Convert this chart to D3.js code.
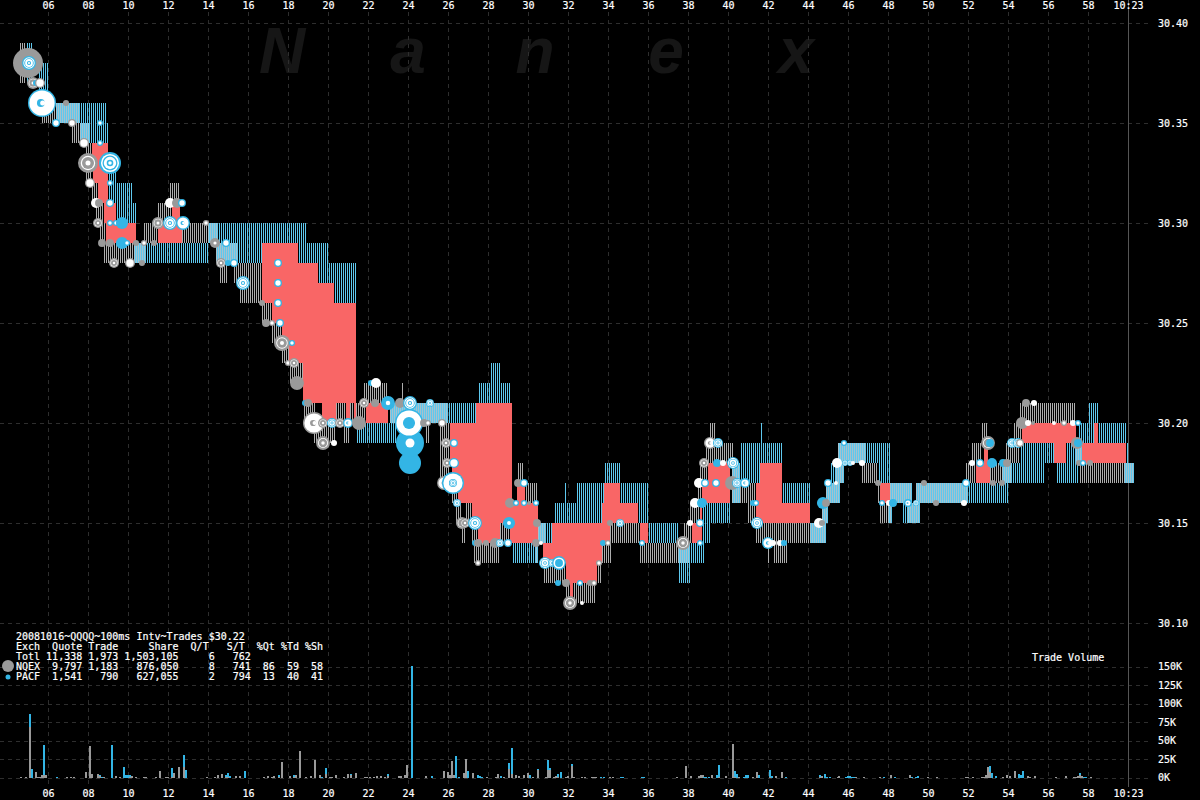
<!DOCTYPE html>
<html><head><meta charset="utf-8">
<script src="https://cdn.jsdelivr.net/npm/d3@7/dist/d3.min.js"></script>
<style>html,body{margin:0;background:#000;overflow:hidden}svg{display:block}
text{font-family:"DejaVu Sans Mono",monospace;font-size:10px;fill:#fff;stroke:#fff;stroke-width:.2px;white-space:pre}</style></head>
<body><svg id="c" width="1200" height="800"></svg>
<script>
const GRAY="#9a9a9a",BLUE="#33b5e5",RED="#f96666";
const secondTicks=d3.range(6,60,2);
const priceTicks=[30.40,30.35,30.30,30.25,30.20,30.15,30.10];
const volumeTicks=[0,25,50,75,100,125,150];
const tableLines=[
"20081016~QQQQ~100ms Intv~Trades $30.22",
"Exch  Quote Trade     Share  Q/T   S/T  %Qt %Td %Sh",
"Totl 11,338 1,973 1,503,105     6   762",
"NQEX  9,797 1,183   876,050     8   741  86  59  58",
"PACF  1,541   790   627,055     2   794  13  40  41"];
// quote spans: [t0, t1, low, high]
const nqexQuotes=[[4.6,4.9,30.37,30.39],[5.7,6.35,30.35,30.36],[7.2,7.6,30.34,30.35],[7.85,8.2,30.32,30.34],[8.2,8.5,30.31,30.32],[8.4,8.8,30.30,30.31],[8.6,8.9,30.29,30.30],[8.8,10.4,30.28,30.29],[10.8,11.6,30.29,30.30],[11.5,12.2,30.30,30.31],[12.1,12.55,30.31,30.32],[12.7,13.95,30.29,30.30],[14.6,14.95,30.27,30.28],[15.3,16.7,30.27,30.28],[15.6,16.7,30.26,30.27],[16.7,17.2,30.25,30.26],[17.2,17.7,30.24,30.25],[17.7,18.05,30.23,30.24],[18.1,18.75,30.22,30.23],[18.75,19.4,30.20,30.21],[20.4,20.9,30.20,30.21],[21.1,21.3,30.20,30.21],[21.4,21.95,30.20,30.21],[21.8,22.95,30.21,30.22],[23.65,23.75,30.21,30.22],[19.3,20.35,30.19,30.20],[20.8,21.05,30.19,30.20],[24.85,25.05,30.19,30.20],[25.6,26.1,30.17,30.20],[26.2,26.5,30.16,30.17],[26.4,26.7,30.15,30.16],[26.9,27.2,30.15,30.16],[26.7,26.85,30.14,30.15],[27.2,27.5,30.14,30.15],[27.3,28.55,30.13,30.14],[28.6,29.1,30.14,30.15],[29.5,29.75,30.17,30.18],[29.8,30.45,30.16,30.17],[30.8,31.9,30.12,30.13],[31.9,32.2,30.11,30.12],[32.2,33.35,30.11,30.12],[33.45,33.65,30.12,30.13],[33.7,34.15,30.13,30.14],[34.1,35.6,30.14,30.15],[35.6,37.45,30.13,30.14],[37.8,38.2,30.14,30.15],[38.1,38.6,30.15,30.16],[38.6,39,30.17,30.18],[38.45,38.7,30.16,30.17],[38.9,40.25,30.18,30.19],[39.1,39.35,30.19,30.20],[40.6,41.4,30.16,30.17],[41,41.4,30.15,30.16],[41.4,44.1,30.14,30.15],[42.3,42.95,30.13,30.14],[41.95,42.05,30.13,30.14],[46.7,47.5,30.17,30.18],[47.6,48,30.15,30.16],[47.5,47.6,30.16,30.17],[51.9,52.4,30.17,30.18],[52.2,52.7,30.18,30.19],[52.7,52.95,30.19,30.20],[53.1,53.75,30.17,30.18],[53.9,54.6,30.18,30.19],[54.3,54.7,30.19,30.20],[54.6,57.35,30.20,30.21],[57.6,59.8,30.17,30.18]];
const pacfQuotes=[[4.9,5.15,30.37,30.39],[5.5,6,30.36,30.38],[7.6,8.9,30.35,30.36],[8.1,9,30.34,30.35],[9,9.4,30.31,30.33],[9.4,10.2,30.31,30.32],[9.4,10.4,30.30,30.31],[10.9,13.95,30.28,30.29],[14.5,18.9,30.29,30.30],[15.45,16.7,30.28,30.29],[18.5,20,30.28,30.29],[19.5,21.4,30.27,30.28],[20.3,21.4,30.26,30.27],[21.35,23.35,30.19,30.20],[25.95,27.4,30.20,30.21],[27.45,29.1,30.21,30.22],[28.05,28.6,30.22,30.23],[29.15,30.35,30.13,30.14],[30.9,31.2,30.14,30.15],[31.25,33.7,30.15,30.16],[31.8,31.9,30.16,30.17],[32.35,33.75,30.16,30.17],[33.75,34.6,30.17,30.18],[34.6,36,30.16,30.17],[35.5,36,30.15,30.16],[36,37.5,30.14,30.15],[38.1,38.8,30.13,30.14],[37.45,38.1,30.12,30.13],[38.7,39.1,30.14,30.15],[38.7,40.1,30.15,30.16],[40.55,42.7,30.18,30.19],[41.6,41.7,30.19,30.20],[40.55,41.6,30.17,30.18],[42.7,44.1,30.16,30.17],[46.9,48.1,30.18,30.19],[47.5,48.1,30.17,30.18],[45.05,45.35,30.17,30.18],[48.65,48.95,30.15,30.16],[52,54,30.16,30.17],[54.2,55.8,30.17,30.18],[54.6,56.3,30.18,30.19],[56.35,57.5,30.17,30.18],[56.9,57.45,30.18,30.19],[57.95,58.5,30.20,30.21],[57.45,58.3,30.19,30.20],[58.5,59.9,30.19,30.20],[59.9,60,30.18,30.19]];
const sharedQuotes=[[6.35,7.6,30.35,30.36],[7.6,8.1,30.34,30.35],[10.3,10.9,30.28,30.29],[13.95,14.5,30.29,30.30],[14.35,15.45,30.28,30.29],[23.1,25.95,30.20,30.21],[30.35,30.5,30.13,30.14],[30.5,30.9,30.14,30.15],[37.45,38.1,30.13,30.14],[40.15,40.6,30.16,30.18],[44.1,44.9,30.14,30.15],[44.7,45,30.15,30.16],[44.85,45.6,30.16,30.17],[45.35,45.75,30.17,30.18],[45.5,46.9,30.18,30.19],[48.1,49.2,30.16,30.17],[49.4,52,30.16,30.17],[48,48.2,30.15,30.16],[48.95,49.6,30.15,30.16],[53.7,54.2,30.17,30.18],[57.35,57.7,30.18,30.19],[59.8,60.3,30.17,30.18]];
const crossedQuotes=[[8.2,9,30.33,30.34],[8.25,9,30.32,30.33],[8.5,9,30.31,30.32],[8.8,9.4,30.30,30.31],[8.9,10.4,30.29,30.30],[11.5,12.7,30.29,30.30],[12.2,12.6,30.30,30.31],[16.7,18.5,30.28,30.29],[16.7,19.5,30.27,30.28],[16.7,20.3,30.26,30.27],[17.2,21.4,30.25,30.26],[17.7,21.4,30.24,30.25],[18.05,21.4,30.23,30.24],[18.75,21.4,30.21,30.23],[19.7,20.4,30.20,30.21],[20.9,21.1,30.20,30.21],[21.3,21.4,30.20,30.21],[21.9,23,30.20,30.21],[27.4,29.2,30.20,30.21],[26.1,29.2,30.18,30.20],[26.2,29.2,30.17,30.18],[26.5,29.2,30.16,30.17],[27.2,29.2,30.15,30.16],[27.5,28.6,30.14,30.15],[29.1,30.5,30.14,30.16],[29.45,29.85,30.16,30.17],[31.2,34.1,30.14,30.15],[30.75,33.7,30.13,30.14],[31.9,33.45,30.12,30.13],[32.1,32.25,30.11,30.12],[33.8,34.6,30.16,30.17],[33.7,35.5,30.15,30.16],[35.6,36,30.14,30.15],[38.2,38.7,30.14,30.15],[38.6,38.7,30.15,30.16],[39,40.1,30.17,30.18],[38.7,40.1,30.16,30.17],[41.6,42.7,30.17,30.18],[41.4,42.7,30.16,30.17],[41.4,44.1,30.15,30.16],[47.6,48.1,30.16,30.17],[52.4,53.1,30.17,30.18],[52.8,53,30.18,30.19],[54.7,57.4,30.19,30.20],[56.3,56.9,30.18,30.19],[58.3,58.5,30.19,30.20],[57.7,59.9,30.18,30.19]];
// volume: [t, NQEX K shares, PACF K shares]
const volumes=[[4.6,1.3,0],[4.85,1.3,0],[5.05,68.3,17.4],[5.15,0,12],[5.35,8,0],[5.45,1.3,0],[5.55,1.3,0],[5.65,4,0],[5.75,4,40],[5.85,4,0],[6.4,0,1.3],[6.9,1.3,0],[7.1,1.3,0],[7.25,1.3,0],[7.85,8,0],[8.05,42.9,0],[8.15,5.4,0],[8.45,5.4,0],[8.55,2.7,1.3],[8.65,0,1.3],[8.75,1.3,0],[9.15,0,44.2],[9.35,2.7,0],[9.55,1.3,0],[9.75,0,14.7],[9.85,0,4],[9.95,0,4],[10.05,1.3,2.7],[10.15,2.7,0],[10.35,1.3,0],[10.75,1.3,0],[10.85,1.3,0],[11.35,1.3,0],[11.55,9.4,0],[11.85,1.3,0],[11.95,1.3,0],[12.15,1.3,12],[12.25,6.7,0],[12.5,14.7,0],[12.75,14.7,16],[12.85,0,10.7],[13.9,1.3,0],[14.3,1.3,0],[14.45,4,0],[14.65,5.4,0],[14.85,1.3,2.7],[14.95,1.3,5.4],[15.05,0,2.7],[15.35,2.7,0],[15.55,2.7,0],[15.8,0,9.4],[16.75,1.3,0],[16.95,2.7,0],[17.15,1.3,0],[17.25,2.7,0],[17.5,1.3,2.7],[17.65,21.4,0],[18.05,2.7,0],[18.25,1.3,2.7],[18.35,4,0],[18.55,36,0],[18.85,1.3,0],[19.1,2.7,0],[19.3,24,0],[19.55,4,0],[19.65,0,1.3],[19.85,5.4,8],[20.05,1.3,0],[20.15,1.3,0],[20.35,4,0],[20.75,1.3,0],[20.95,5.4,0],[21.1,4,1.3],[21.35,6.7,0],[21.8,1.3,0],[21.9,1.3,0],[22.05,1.3,0],[22.25,1.3,0],[22.4,2.7,0],[22.6,2.7,0],[22.8,1.3,0],[22.95,2.7,2.7],[23.5,2.7,0],
[23.6,2.7,0],[23.8,4,0],[23.9,17.4,0],[24.15,0,151],[24.85,2.7,0],[25.15,0,2.7],[25.75,9.4,0],[25.95,8,0],[26.05,4,0],[26.15,22.8,0],[26.25,4,0],[26.35,0,29.5],[26.5,0,1.3],[26.75,6.7,0],[26.85,25.5,0],[26.95,0,9.4],[27.2,6.7,0],[27.45,0,4],[27.55,0,2.7],[27.65,0,1.3],[27.9,1.3,0],[28.35,1.3,0],[28.45,5.4,0],[28.6,0,2.7],[28.75,1.3,0],[29,12,8],[29.15,5.4,34.8],[29.35,4,0],[29.5,2.7,0],[29.75,4,0],[29.95,6.7,0],[30.05,0,4],[30.2,1.3,0],[30.45,10.7,1.3],[30.85,1.3,0],[30.95,10.7,13.4],[31.05,10.7,2.7],[31.25,1.3,0],[31.35,2.7,0],[31.45,1.3,4],[31.6,0,8],[31.85,1.3,0],[31.95,2.7,0],[32.15,16,2.7],[32.25,1.3,0],[32.65,1.3,0],[32.8,1.3,0],[33.15,1.3,0],[33.25,1.3,0],[33.35,1.3,0],[33.6,0,1.3],[33.75,0,1.3],[34.05,1.3,0],[34.2,1.3,0],[34.6,0,1.3],[34.7,0,1.3],[35.65,0,1.3],[35.75,0,1.3],[37.4,1.3,0],[37.85,16,0],[38.1,2.7,0],[38.5,2.7,0],[38.6,4,0],[38.7,4,0],[38.75,0,1.3],[38.85,0,1.3],[39,0,1.3],[39.15,4,0],[39.4,0,4],[39.5,1.3,16],[39.85,2.7,0],[40.2,45.6,0],[40.3,1.3,8],[40.4,0,5.4],[40.5,1.3,0],[40.75,0,1.3],[40.85,0,4],[40.95,0,4],[41.2,1.3,0],[41.4,8,0],[41.5,0,4],[42.05,1.3,9.4],[42.15,0,2.7],[42.35,2.7,0],[42.65,8,0],[42.85,0,1.3],
[44.55,1.3,2.7],[44.65,2.7,0],[44.8,0,5.4],[44.9,0,1.3],[45.05,0,1.3],[45.45,1.3,0],[45.5,2.7,0],[45.85,0,1.3],[45.95,0,2.7],[46.05,0,2.7],[46.15,0,1.3],[46.25,0,1.3],[46.35,1.3,0],[46.75,1.3,0],[47.55,1.3,0],[47.75,0,1.3],[48.1,4,0],[48.3,0,1.3],[49.05,4,0],[49.15,0,1.3],[49.35,0,1.3],[49.45,0,2.7],[49.95,1.3,0],[50.4,1.3,0],[51.85,1.3,0],[51.95,1.3,0],[52.2,1.3,0],[52.65,1.3,0],[52.75,1.3,0],[52.85,4,0],[52.95,14.7,0],[53.05,8,8],[53.15,0,6.7],[53.35,0,2.7],[53.7,1.3,0],[53.9,4,0],[54.05,2.7,0],[54.3,9.4,0],[54.5,0,5.4],[54.6,0,4],[54.7,0,9.4],[54.95,2.7,0],[55.05,1.3,0],[55.3,2.7,0],[56.35,1.3,0],[56.85,2.7,0],[57.25,1.3,0],[57.35,1.3,0],[57.45,2.7,0],[57.55,4,2.7],[57.65,2.7,0],[57.75,0,1.3],[57.85,0,1.3],[58.1,1.3,0]];
// trades: [t, price, exchange, K shares, style]
const trades=[[5,30.38,'N',172,'solid'],[5.05,30.38,'P',37,'ring'],[5.25,30.37,'N',28,'ring'],[5.4,30.37,'P',7,'solid'],[5.6,30.37,'N',19,'dot'],[5.7,30.36,'P',150,'disc'],[6.9,30.36,'N',7,'solid'],[6.4,30.35,'P',12,'dot'],[7.2,30.35,'N',12,'dot'],[8.6,30.35,'P',7,'dot'],[7.8,30.34,'N',19,'dot'],[8.6,30.34,'P',7,'dot'],[8,30.33,'N',77,'ring'],[9.1,30.33,'P',93,'ring'],[8.1,30.32,'N',19,'dot'],[9.1,30.32,'P',7,'dot'],[8.4,30.31,'N',19,'white'],[8.55,30.31,'N',12,'solid'],[9.1,30.31,'P',12,'dot'],[8.5,30.30,'N',19,'ring'],[9.1,30.30,'P',7,'dot'],[9.4,30.30,'P',7,'dot'],[9.7,30.30,'P',28,'solid'],[8.7,30.29,'N',12,'solid'],[9.1,30.29,'N',12,'solid'],[9.7,30.29,'P',28,'solid'],[9.95,30.29,'P',7,'dot'],[10.4,30.29,'N',7,'solid'],[10.8,30.29,'N',7,'dot'],[11.3,30.29,'N',7,'solid'],[9.3,30.28,'N',19,'ring'],[10.1,30.28,'N',19,'dot'],[10.7,30.28,'N',7,'solid'],[12.1,30.31,'N',19,'white'],[12.45,30.31,'N',19,'solid'],[12.7,30.31,'P',12,'dot'],[11.5,30.30,'N',28,'ring'],[12.1,30.30,'P',37,'ring'],[12.75,30.30,'P',37,'disc'],[13.9,30.30,'N',7,'dot'],[14.35,30.29,'N',19,'core'],[14.9,30.29,'P',12,'dot'],[14.65,30.28,'N',19,'ring'],[15,30.28,'P',7,'solid'],[15.3,30.28,'P',12,'dot'],[15.75,30.27,'P',37,'ring'],[17.5,30.28,'P',12,'dot'],[17.5,30.27,'P',12,'dot'],[17.5,30.26,'P',12,'dot'],[16.7,30.26,'N',7,'solid'],[16.9,30.25,'N',12,'solid'],[17.2,30.25,'N',7,'dot'],[17.6,30.25,'P',12,'dot'],[17.7,30.24,'N',49,'ring'],[18.2,30.24,'P',7,'dot'],[18,30.23,'N',7,'dot'],[18.3,30.23,'N',19,'ring'],[18.45,30.22,'N',37,'solid'],[18.85,30.21,'P',7,'solid'],[19,30.21,'N',12,'solid'],[19.3,30.20,'N',93,'disc'],[19.75,30.20,'N',19,'ring'],[20.2,30.20,'P',19,'ring'],[20.6,30.20,'N',19,'ring'],[21,30.20,'P',19,'disc'],[21.55,30.20,'N',37,'solid'],[19.75,30.19,'N',37,'ring'],[20.3,30.19,'N',7,'white'],[21.8,30.21,'N',19,'ring'],[22.35,30.21,'N',12,'solid'],[23,30.21,'P',37,'core'],[22.15,30.22,'P',7,'solid'],[22.4,30.22,'N',19,'white'],[23.6,30.21,'N',19,'solid'],[24.1,30.21,'P',37,'ring'],[24.1,30.18,'P',93,'solid'],[24.1,30.19,'P',150,'core'],[24.05,30.20,'P',150,'disc'],[24.05,30.20,'P',28,'solid'],[24.8,30.20,'N',12,'solid'],[25,30.20,'N',7,'dot'],[25.7,30.20,'N',12,'dot'],[25.1,30.21,'P',12,'ring'],[25.9,30.19,'N',19,'ring'],[26.3,30.19,'P',12,'dot'],[25.95,30.18,'N',19,'ring'],[26.3,30.18,'P',19,'dot'],[25.8,30.17,'N',37,'disc'],[26.25,30.17,'P',93,'disc'],[26.25,30.17,'P',12,'ring'],[26.45,30.16,'P',12,'ring'],[26.7,30.15,'N',28,'ring'],[26.85,30.15,'N',19,'ring'],[27.35,30.15,'P',37,'ring'],[27.35,30.14,'P',7,'solid'],[27.5,30.14,'N',12,'solid'],[27.9,30.14,'N',7,'solid'],[28.35,30.14,'N',19,'solid'],[28.6,30.14,'P',12,'ring'],[29,30.14,'P',12,'dot'],[27.5,30.13,'N',7,'dot'],[29.5,30.17,'N',12,'solid'],[29.8,30.17,'P',12,'dot'],[29.1,30.16,'N',19,'solid'],[29.4,30.16,'P',7,'dot'],[29.8,30.16,'P',7,'dot'],[30.05,30.16,'N',3,'solid'],[30.4,30.16,'P',7,'dot'],[29.05,30.15,'P',28,'core'],[30.45,30.15,'N',12,'solid'],[30.4,30.14,'N',12,'solid'],[30.65,30.14,'N',3,'white'],[30.85,30.13,'P',28,'ring'],[31.2,30.13,'P',12,'ring'],[31.55,30.13,'P',37,'disc'],[31.55,30.13,'P',12,'solid'],[31.5,30.12,'P',7,'solid'],[31.9,30.12,'N',12,'solid'],[32.6,30.12,'P',7,'dot'],[33.1,30.12,'N',7,'solid'],[33.3,30.12,'N',7,'dot'],[32.1,30.11,'N',37,'ring'],[32.7,30.11,'N',3,'white'],[33.55,30.13,'N',7,'dot'],[33.75,30.14,'P',7,'solid'],[34,30.14,'N',7,'dot'],[34.1,30.15,'N',7,'solid'],[34.6,30.15,'P',12,'ring'],[35.7,30.14,'P',7,'dot'],[37.75,30.14,'N',37,'ring'],[38.6,30.14,'P',7,'dot'],[38.1,30.15,'N',7,'white'],[38.6,30.15,'P',12,'dot'],[38.35,30.16,'N',19,'white'],[38.7,30.16,'P',19,'solid'],[38.55,30.17,'N',19,'white'],[38.85,30.17,'P',12,'dot'],[39.4,30.17,'P',12,'dot'],[38.8,30.18,'N',19,'ring'],[39.45,30.18,'P',12,'solid'],[39.75,30.18,'N',7,'white'],[40.25,30.18,'P',28,'ring'],[39.1,30.19,'N',28,'disc'],[39.5,30.19,'P',19,'ring'],[40.2,30.17,'N',37,'solid'],[40.45,30.17,'P',19,'ring'],[40.85,30.17,'P',19,'disc'],[41.25,30.16,'P',7,'solid'],[41.4,30.16,'P',7,'dot'],[41.45,30.15,'P',28,'ring'],[42,30.14,'P',28,'disc'],[42.25,30.14,'N',7,'white'],[42.6,30.14,'N',7,'white'],[42.8,30.14,'P',7,'solid'],[44.75,30.16,'P',28,'solid'],[44.9,30.16,'N',12,'solid'],[45,30.17,'P',12,'dot'],[45.4,30.17,'N',3,'white'],[44.55,30.15,'N',19,'white'],[44.7,30.15,'N',7,'solid'],[45.8,30.19,'P',7,'dot'],[45.45,30.18,'N',19,'white'],[45.85,30.18,'P',7,'ring'],[46.1,30.18,'P',7,'ring'],[46.25,30.18,'N',3,'white'],[46.7,30.18,'N',7,'white'],[47.5,30.17,'N',7,'solid'],[47.7,30.16,'P',7,'dot'],[48.05,30.16,'N',7,'white'],[48.25,30.16,'P',12,'solid'],[49,30.16,'P',12,'disc'],[49.4,30.16,'P',7,'ring'],[49.8,30.17,'N',7,'solid'],[50.4,30.16,'N',7,'solid'],[51.8,30.16,'N',7,'white'],[51.9,30.17,'P',12,'dot'],[52.2,30.18,'N',7,'white'],[52.6,30.18,'P',12,'dot'],[53.2,30.18,'P',19,'solid'],[53.75,30.18,'P',12,'solid'],[53.95,30.18,'N',12,'solid'],[53,30.19,'N',37,'ring'],[53.1,30.19,'P',12,'solid'],[53.25,30.17,'N',7,'solid'],[53.7,30.17,'N',7,'solid'],[54.2,30.19,'P',19,'ring'],[54.5,30.19,'P',19,'ring'],[54.6,30.19,'N',12,'dot'],[54.7,30.20,'N',28,'solid'],[55,30.20,'N',7,'white'],[55.25,30.20,'N',3,'solid'],[56.3,30.20,'N',3,'white'],[56.8,30.20,'N',7,'dot'],[57.25,30.20,'N',7,'white'],[57.5,30.20,'P',7,'dot'],[54.9,30.21,'N',12,'solid'],[55.3,30.21,'N',7,'white'],[57.45,30.19,'N',28,'solid'],[57.5,30.19,'P',12,'solid'],[57.55,30.18,'N',7,'solid'],[57.75,30.18,'P',7,'dot'],[58.1,30.18,'N',7,'solid']];

const svg=d3.select("#c");
svg.append("rect").attr("width",1200).attr("height",800).attr("fill","#000");
const x=d3.scaleLinear().domain([6,60]).range([48,1128]);
const y=d3.scaleLinear().domain([30.10,30.40]).range([623,23]);
const v=d3.scaleLinear().domain([0,150]).range([777.5,666.5]);
const r=d3.scaleSqrt().domain([0,150]).range([0,14]);

// watermark
const wm=["N","a","n","e","x"],wmT=[17.7,24,30.35,36.9,43.4];
svg.append("g").selectAll("text").data(wm).join("text").text(d=>d).attr("x",(d,i)=>x(wmT[i]))
 .attr("y",73).attr("text-anchor","middle").style("font-family","'Liberation Sans'").style("font-style","italic").style("font-weight","bold")
 .style("font-size","64px").style("fill","#161616").style("stroke","none");

// grid
const grid=svg.append("g").attr("stroke","#2e2e2e").attr("stroke-dasharray","4 4").attr("shape-rendering","crispEdges");
grid.selectAll(".v").data(secondTicks).join("line").attr("x1",d=>x(d)+.5).attr("x2",d=>x(d)+.5).attr("y1",12).attr("y2",787);
grid.selectAll(".h").data(priceTicks).join("line").attr("y1",d=>y(d)+.5).attr("y2",d=>y(d)+.5).attr("x1",0).attr("x2",1152);
grid.selectAll(".w").data(volumeTicks).join("line").attr("y1",d=>Math.round(v(d))+.5).attr("y2",d=>Math.round(v(d))+.5).attr("x1",0).attr("x2",1152);
svg.append("line").attr("x1",x(60)+.5).attr("x2",x(60)+.5).attr("y1",0).attr("y2",787).attr("stroke","#555").attr("shape-rendering","crispEdges");

// stripes: one hairline per 100 ms
function stripes(list,color,shift,cls){
  const g=svg.append("g").attr("class",cls).attr("fill",color).attr("shape-rendering","crispEdges");
  list.forEach(([t0,t1,lo,hi])=>{
    const n=d3.range(Math.round(t0*10),Math.round(t1*10)).map(k=>k/10);
    g.selectAll(null).data(n).join("rect").attr("x",t=>Math.round(x(t+shift))).attr("width",1)
     .attr("y",y(hi)).attr("height",y(lo)-y(hi));
  });
}
stripes(nqexQuotes,"#adadad",0,"nqex");
stripes(sharedQuotes,"#a6c2ce",0,"both");
stripes(pacfQuotes.concat(sharedQuotes),"#5ec8ee",0.05,"pacf");
svg.append("g").attr("shape-rendering","crispEdges").selectAll("rect").data(crossedQuotes).join("rect")
 .attr("x",d=>x(d[0])).attr("width",d=>x(d[1])-x(d[0])).attr("y",d=>y(d[3])).attr("height",d=>y(d[2])-y(d[3])).attr("fill",RED);

// trades
const tg=svg.append("g");
const col=e=>e==='N'?GRAY:BLUE;
function disc(cx,cy,rad,f){tg.append("circle").attr("cx",cx).attr("cy",cy).attr("r",rad).attr("fill",f);}
trades.forEach(([t,p,e,k,s])=>{
  const cx=x(t),cy=y(p),R=r(k),c=col(e);
  if(s==='solid')disc(cx,cy,R,c);
  else if(s==='white')disc(cx,cy,R,"#fff");
  else if(s==='dot'){disc(cx,cy,R,c);disc(cx,cy,Math.max(R-1.3,1.2),"#fff");}
  else if(s==='core'){disc(cx,cy,R,c);disc(cx,cy,Math.max(R*.32,1.6),"#fff");}
  else if(s==='disc'){disc(cx,cy,R,c);disc(cx,cy,R-1.4,"#fff");disc(cx-R*.08,cy,R*.28,c);disc(cx+R*.05,cy,R*.18,"#fff");}
  else if(s==='ring'){
    disc(cx,cy,R,c);
    if(e==='N'){disc(cx,cy,R*.72,"#fff");disc(cx,cy,R*.6,c);disc(cx,cy,R*.25,"#fff");}
    else{disc(cx,cy,R*.82,"#fff");disc(cx,cy,R*.68,c);disc(cx,cy,R*.56,"#fff");disc(cx,cy,R*.3,c);disc(cx,cy,R*.16,"#fff");}
  }
});

// volume
const vg=svg.append("g").attr("shape-rendering","crispEdges");
vg.selectAll(".n").data(volumes.filter(d=>d[1]>0)).join("rect").attr("x",d=>x(d[0])).attr("width",2)
 .attr("y",d=>v(d[1])).attr("height",d=>v(0)-v(d[1])).attr("fill",GRAY);
vg.selectAll(".p").data(volumes.filter(d=>d[2]>0)).join("rect").attr("x",d=>x(d[0])).attr("width",2)
 .attr("y",d=>v(d[1]+d[2])).attr("height",d=>v(d[1])-v(d[1]+d[2])).attr("fill",BLUE);

// axes
const fmtT=d=>d===60?"10:23":String(d).padStart(2,"0");
function tidy(g){g.select(".domain").remove();g.selectAll(".tick line").remove();g.selectAll("text").attr("style",null).attr("fill",null);}
svg.append("g").attr("transform","translate(0,9)").call(d3.axisTop(x).tickValues(secondTicks.concat([60])).tickFormat(fmtT).tickSize(0).tickPadding(0)).call(tidy).attr("font-family",null).attr("font-size",null);
svg.append("g").attr("transform","translate(0,790)").call(d3.axisBottom(x).tickValues(secondTicks.concat([60])).tickFormat(fmtT).tickSize(0).tickPadding(0)).call(tidy).attr("font-family",null).attr("font-size",null);
svg.append("g").attr("transform","translate(1158,0)").call(d3.axisRight(y).tickValues(priceTicks).tickFormat(d3.format(".2f")).tickSize(0).tickPadding(0)).call(tidy).attr("font-family",null).attr("font-size",null);
svg.append("g").attr("transform","translate(1158,0)").call(d3.axisRight(v).tickValues(volumeTicks).tickFormat(d=>d+"K").tickSize(0).tickPadding(0)).call(tidy).attr("font-family",null).attr("font-size",null);

// table and legend
svg.append("g").selectAll("text").data(tableLines).join("text").text(d=>d).attr("x",16).attr("y",(d,i)=>640+i*10);
svg.append("circle").attr("cx",8).attr("cy",666).attr("r",6).attr("fill",GRAY);
svg.append("circle").attr("cx",8).attr("cy",677).attr("r",2.5).attr("fill",BLUE);
svg.append("text").text("Trade Volume").attr("x",1032).attr("y",661);
</script></body></html>
